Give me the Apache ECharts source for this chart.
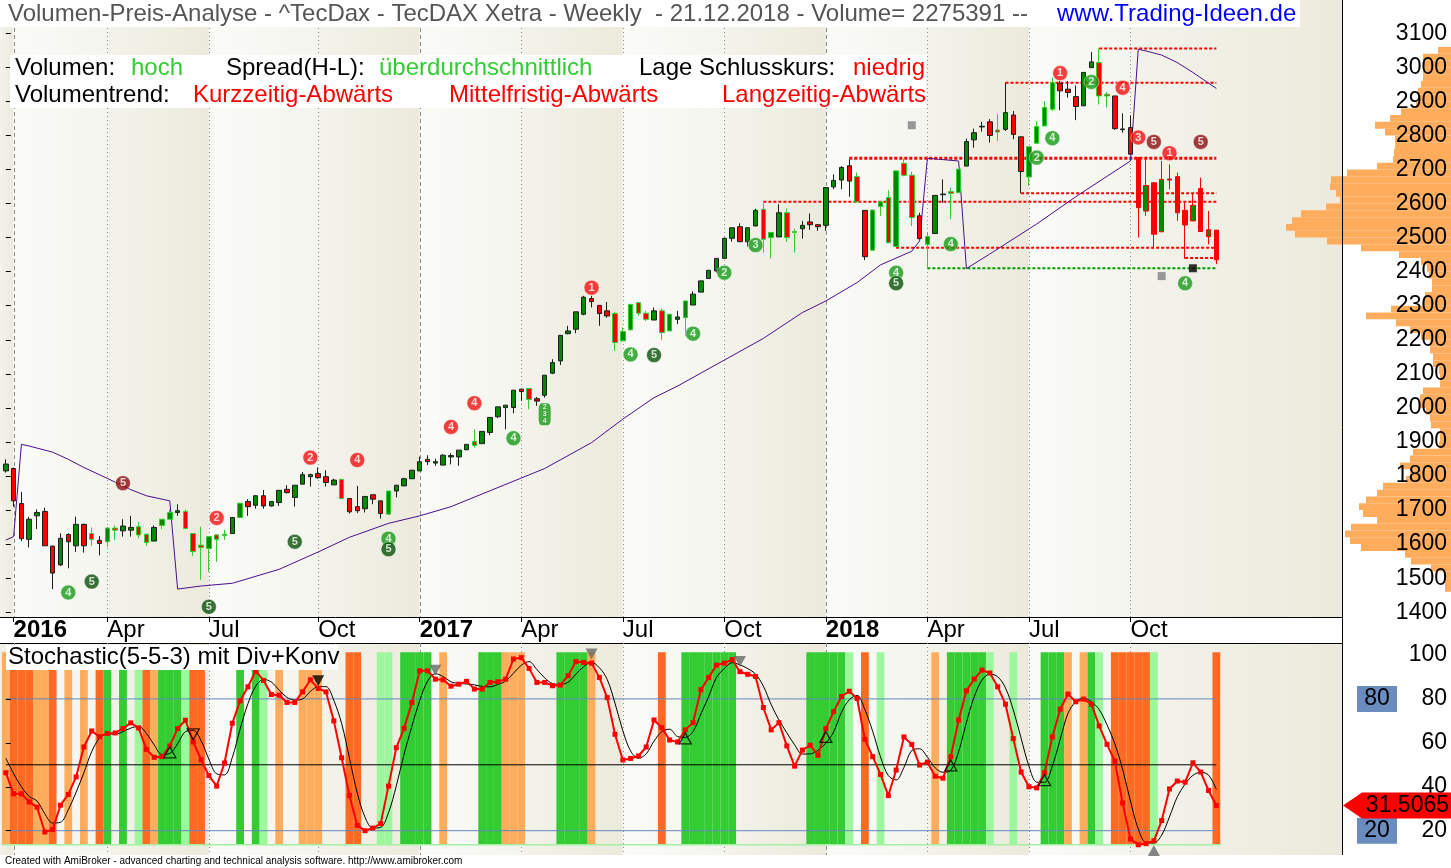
<!DOCTYPE html>
<html><head><meta charset="utf-8">
<script src="https://cdn.jsdelivr.net/npm/echarts@6/dist/echarts.min.js"></script>
<style>html,body{margin:0;padding:0;background:#fff;}#c{width:1451px;height:868px;}</style>
</head><body><div id="c"></div>
<script>
// ---------------- DATA ----------------
const firstWeek = '2016-01-01';
const weekCount = 156;
const opens = [1815,1822,1719,1614,1683,1696,1594,1539,1628,1595,
1658,1631,1611,1607,1647,1639,1641,1651,1629,1609,
1655,1673,1693,1696,1631,1597,1587,1627,1625,1631,
1678,1725,1714,1742,1712,1722,1761,1737,1776,1798,
1807,1798,1774,1790,1734,1710,1704,1745,1727,1688,
1756,1771,1792,1815,1849,1838,1832,1856,1856,1877,
1901,1895,1928,1974,2001,2001,2055,2057,2027,2037,
2102,2138,2218,2231,2275,2321,2301,2285,2277,2197,
2229,2309,2278,2258,2285,2226,2260,2265,2302,2340,
2380,2402,2439,2498,2532,2488,2534,2583,2500,2502,
2573,2515,2526,2546,2538,2536,2649,2669,2711,2679,
2580,2463,2591,2618,2474,2718,2683,2564,2480,2512,
2626,2635,2632,2710,2787,2825,2840,2816,2818,2860,
2796,2678,2777,2828,2877,2953,2936,2914,2887,2999,
3014,2921,2916,2817,2823,2735,2578,2661,2517,2672,
2679,2580,2549,2644,2503,2522];
const closes = [1835,1727,1616,1673,1693,1595,1515,1617,1607,1658,
1595,1614,1602,1647,1641,1653,1649,1627,1605,1649,
1673,1693,1698,1646,1578,1590,1622,1614,1629,1678,
1720,1710,1742,1712,1725,1758,1751,1773,1804,1804,
1795,1781,1788,1734,1695,1698,1740,1732,1690,1756,
1773,1792,1817,1842,1842,1842,1861,1860,1876,1893,
1890,1931,1972,2003,2008,2052,2048,2025,2020,2096,
2133,2213,2226,2282,2325,2312,2277,2270,2192,2224,
2304,2278,2260,2285,2221,2275,2267,2314,2334,2373,
2404,2439,2498,2529,2488,2529,2580,2495,2515,2573,
2500,2518,2536,2538,2532,2647,2668,2706,2666,2605,
2444,2581,2605,2485,2696,2683,2559,2497,2503,2624,
2628,2630,2701,2782,2808,2827,2800,2810,2867,2803,
2694,2767,2826,2882,2955,2931,2926,2885,2985,3016,
2916,2916,2820,2819,2745,2588,2653,2510,2671,2669,
2573,2537,2595,2518,2523,2435];
const highs = [1849,1825,1753,1680,1702,1707,1596,1632,1632,1681,
1660,1649,1624,1650,1655,1673,1683,1665,1630,1655,
1673,1702,1717,1702,1631,1651,1622,1629,1642,1680,
1722,1732,1744,1759,1727,1759,1773,1773,1812,1807,
1825,1817,1792,1792,1734,1771,1740,1745,1727,1756,
1773,1795,1817,1857,1861,1851,1864,1867,1876,1893,
1937,1931,1972,2003,2008,2052,2055,2057,2032,2096,
2143,2213,2241,2282,2329,2329,2301,2311,2282,2236,
2304,2309,2285,2295,2292,2275,2285,2314,2342,2373,
2404,2439,2500,2529,2542,2529,2585,2601,2517,2598,
2585,2526,2549,2571,2538,2647,2686,2710,2730,2691,
2580,2581,2605,2639,2696,2732,2693,2573,2515,2624,
2671,2647,2701,2791,2820,2840,2848,2862,2955,2872,
2796,2767,2843,2901,2970,2960,2960,2947,2985,3045,
3055,2928,2916,2865,2859,2735,2735,2661,2725,2715,
2691,2603,2630,2676,2578,2522];
const lows = [1810,1710,1609,1590,1644,1595,1468,1536,1529,1577,
1575,1595,1567,1592,1612,1622,1622,1617,1595,1609,
1644,1673,1683,1644,1565,1495,1518,1548,1612,1630,
1676,1683,1704,1704,1710,1712,1749,1710,1776,1769,
1792,1769,1774,1732,1690,1691,1693,1717,1675,1686,
1737,1771,1792,1815,1832,1830,1832,1834,1830,1877,
1884,1895,1920,1970,1937,1984,2021,1996,2006,2030,
2099,2126,2216,2219,2272,2295,2241,2265,2167,2197,
2229,2270,2255,2258,2200,2226,2246,2211,2302,2340,
2380,2397,2439,2488,2488,2474,2534,2456,2439,2502,
2487,2456,2497,2523,2520,2520,2642,2642,2620,2603,
2434,2463,2564,2485,2474,2680,2534,2497,2412,2512,
2603,2554,2632,2710,2764,2811,2779,2784,2813,2789,
2630,2652,2777,2828,2872,2874,2911,2845,2887,2999,
2891,2882,2816,2808,2745,2500,2564,2468,2517,2642,
2549,2438,2549,2518,2480,2422];
// candle outline class: k = dark, g = light green, r = red
const outlineCodes = ("kkkkkkkkkk"+"kgkggkkggk"+"ggkggggggk"+"gkkkkkkkkk"+"kkkgkkkkkg"+
  "kkkkkkkkkk"+"gkkkkkkgkk"+"kkkkkkkkgg"+"gggkggkgkk"+"kkkkkkkggk"+
  "ggkkkkkkkg"+"kggggggkgk"+"kggkkkkgkk"+"kggggkkkkk"+"ggkkkrrrrr"+"rrrrrr").split('');

// Stochastic %K (red) and %D (black)
const kValues = [46.4,36.8,36.8,33.1,30.7,19.4,20.5,31.6,36.5,44.5,
58.1,65.4,62.8,64.3,64.5,66.5,69.1,66.8,57.0,53.4,
53.7,58.6,66.5,70.3,60.4,52.3,45.1,40.3,50.8,68.9,
79.1,85.5,92.7,88.4,82.0,81.7,78.4,78.4,83.2,88.7,
84.8,83.2,70.0,53.2,36.0,22.4,20.0,21.2,23.2,40.3,
57.8,66.6,78.4,92.8,92.8,89.0,88.7,85.8,86.7,88.0,
84.5,84.5,87.5,87.8,89.0,98.2,98.8,93.9,87.5,87.5,
86.0,86.3,90.6,97.0,96.6,96.3,89.8,80.6,63.9,52.2,
52.9,54.0,58.1,70.4,66.9,61.3,60.4,65.9,69.2,84.2,
89.8,95.4,96.3,97.9,92.4,91.2,90.2,76.1,65.9,69.2,
58.6,49.4,56.7,58.9,54.3,66.5,74.2,81.1,83.5,80.2,
61.6,53.7,45.6,36.0,47.6,62.7,59.3,49.9,51.2,44.8,
43.9,53.7,70.4,83.7,89.0,93.1,91.8,85.5,77.6,61.9,
46.7,40.0,39.5,46.4,62.7,75.3,82.2,78.7,79.9,77.6,
67.7,59.3,51.7,32.6,16.2,13.6,14.1,15.4,24.6,39.0,
42.6,42.1,50.9,46.7,38.3,31.5065];
const dValues = [53,46,40.0,35.6,33.5,27.7,23.5,23.8,29.5,37.5,
46.4,56.0,62.1,64.2,63.9,65.1,66.7,67.5,64.3,59.1,
54.7,55.2,59.6,65.1,65.7,61.0,52.6,45.9,45.4,53.3,
66.3,77.8,85.8,88.9,87.7,84.0,80.7,79.5,80.0,83.4,
85.6,85.6,79.3,68.8,53.1,37.2,26.1,21.2,21.5,28.2,
40.4,54.9,67.6,79.3,88.0,91.5,90.2,87.8,87.1,86.8,
86.4,85.7,85.5,86.6,88.1,91.7,95.3,97.0,93.4,89.6,
87.0,86.6,87.6,91.3,94.7,96.6,94.2,88.9,78.1,65.6,
56.3,53.0,55.0,60.8,65.1,66.2,62.9,62.5,65.2,73.1,
81.1,89.8,93.8,96.5,95.5,93.8,91.3,85.8,77.4,70.4,
64.6,59.1,54.9,55.0,56.6,59.9,65.0,73.9,79.6,81.6,
75.1,65.2,53.6,45.1,43.1,48.8,56.5,57.3,53.5,48.6,
46.6,47.5,56.0,69.3,81.0,88.6,91.3,90.1,85.0,75.0,
62.1,49.5,42.1,42.0,49.5,61.5,73.4,78.7,80.3,78.7,
75.1,68.2,59.6,47.9,33.5,20.8,14.6,14.4,18.0,26.3,
35.4,41.2,45.2,46.6,45.3,38.8];
// weekly zone colour: O light orange, D dark orange, G green, L light green, . none
const stochZones = ("ODDDOOD.O."+"O.DG.G.LDO"+"GGGLDD...."+"G.GL.O..OO"+"O...DD..LL"+
  ".GGGG.O..."+".GGGOOO..."+".GGGGO...."+"....D..GGG"+"GGGG......"+
  "...GGGGGL."+"D.L......O"+".GGGGGL..L"+"...GGGO.OG"+"L.DDDDDL.."+".....D").split('');
const stochLevels = [80, 50, 20];
const zoneBandLow = 13.6, zoneBandHigh = 101.2;
// divergence triangles [week, value, kind]
const stochTriangles = [[21,55.7,'upHollow'],[24,63.9,'downHollow'],[40,88.3,'downBlack'],[55,93.1,'downGray'],
  [75,100.4,'downGray'],[87,62,'upHollow'],[94,97,'downGray'],[105,62.7,'upHollow'],[121,49.7,'upHollow'],
  [133,43,'upHollow'],[147,11,'upGray']];

// x-axis ticks
const xTickIdx = [1,13,26,40,53,66,79,92,105,118,131,144];
const xTickLabels = ['2016','Apr','Jul','Oct','2017','Apr','Jul','Oct','2018','Apr','Jul','Oct'];
const priceTickMin = 1400, priceTickMax = 3100, priceTickStep = 100;
const stochTickMin = 20, stochTickMax = 100, stochTickStep = 20;

// purple anchored line points [week, price]
const vwapPts = [[0,1612],[1,1622],[2,1893],[3,1888],[6,1870],[8,1849],[10,1825],[13,1793],[16,1760],[18,1742],
  [21,1727],[22,1468],[25,1477],[29,1485],[35,1526],[40,1577],[44,1620],[49,1661],[53,1683],[57,1710],
  [69,1822],[75,1898],[79,1967],[83,2030],[86,2064],[97,2204],[102,2280],[105,2314],[109,2368],[112,2420],
  [116,2460],[117,2490],[118,2733],[122,2725],[123,2409],[126,2452],[132,2540],[137,2620],[144,2725],
  [145,3053],[146,3048],[148,3036],[150,3014],[152,2985],[155,2938]];
// support / resistance [start week, price, colour]
const levelLines = [[140,3055,'r'],[128,2955,'r'],[108,2733,'r'],[130,2630,'r'],[97,2605,'r'],
  [114,2470,'r'],[151,2440,'r'],[118,2410,'g']];
// numbered signals [week, price, text, kind]
const badges = [[27,1677,'2','r'],[39,1854,'2','r'],[45,1847,'4','r'],[57,1944,'4','r'],[60,2014,'4','r'],
  [75,2353,'1','r'],[135,2983,'1','r'],[143,2940,'4','r'],[145,2794,'3','r'],[149,2748,'1','r'],
  [15,1779,'5','dr'],[147,2781,'5','dr'],[153,2781,'5','dr'],
  [8,1458,'4','g'],[65,1911,'4','g'],[80,2157,'4','g'],[88,2218,'4','g'],[92,2397,'2','g'],[96,2478,'3','g'],
  [121,2481,'4','g'],[134,2792,'4','g'],[132,2735,'2','g'],[139,2957,'2','g'],[151,2366,'4','g'],
  [114,2397,'4','g'],[49,1616,'4','g'],
  [11,1490,'5','dg'],[26,1416,'5','dg'],[37,1607,'5','dg'],[49,1585,'5','dg'],[83,2155,'5','dg'],[114,2366,'5','dg']];
const pillBadge = [69, 1981, '2\n3\n4'];
const squares = [[116,2830,'gray'],[148,2387,'gray'],[152,2410,'black']];
// volume-at-price profile
const profPrices = [1470,1490,1510,1530,1550,1570,1590,1610,1630,1650,1670,1690,1710,1730,1750,1770,1790,1810,1830,1850,
  1870,1890,1910,1930,1950,1970,1990,2010,2030,2050,2070,2090,2110,2130,2150,2170,2190,2210,2230,2250,
  2270,2290,2310,2330,2350,2370,2390,2410,2430,2450,2470,2490,2510,2530,2550,2570,2590,2610,2630,2650,
  2670,2690,2710,2730,2750,2770,2790,2810,2830,2850,2870,2890,2910,2930,2950,2970,2990,3010,3030,3050];
const profVols = [6,6,6,20,40,46,90,101,106,100,74,88,92,85,74,68,45,41,51,41,
  38,12,11,11,20,21,25,31,31,28,11,11,12,18,18,21,21,30,41,55,
  85,60,28,26,19,19,22,24,30,52,90,124,156,165,159,150,125,111,115,121,
  120,104,74,58,57,56,56,66,76,61,50,35,33,33,30,28,28,28,28,13];
const profBin = 20;

// ---------------- LAYOUT ----------------
const FONT = '"Liberation Sans", Arial, sans-serif';
const PX0 = 5.8, BAND = 7.81, PLOT_W = 1342, TOTAL_W = 1451;
const XMIN = -PX0 / BAND, XMAX = XMIN + PLOT_W / BAND;
const MAIN_TOP = 28, MAIN_BOT = 617, LOW_TOP = 643, LOW_BOT = 855;
const PMIN = 1386, PMAX = 3115.5, SMIN = 8.93, SMAX = 105.46;
const pScale = (MAIN_BOT - MAIN_TOP) / (PMAX - PMIN);
const sScale = (LOW_BOT - LOW_TOP) / (SMAX - SMIN);
const last = weekCount - 1;

const categories = [];
{ const d0 = new Date(firstWeek + 'T00:00:00Z');
  for (let i = 0; i < weekCount; i++) { const d = new Date(d0.getTime() + i * 7 * 86400000); categories.push(d.toISOString().slice(0,10)); } }
const tickMap = {}; xTickIdx.forEach((t, k) => tickMap[t] = xTickLabels[k]);
const isYear = s => /^\d{4}$/.test(s);

const chart = echarts.init(document.getElementById('c'), null, {renderer: 'canvas', width: 1451, height: 868});

const lightGrad = new echarts.graphic.LinearGradient(0,0,1,0,[{offset:0,color:'#fafaf7'},{offset:1,color:'#f5f5ef'}]);
const shadeGrad = new echarts.graphic.LinearGradient(0,0,1,0,[{offset:0,color:'#f4f3eb'},{offset:1,color:'#ebeadc'}]);
const shadeRanges = [];
{ const b = [XMIN].concat(xTickIdx).concat([XMAX]);
  for (let k = 0; k < b.length - 1; k++) shadeRanges.push([b[k], b[k+1], k % 2 === 0 ? 1 : 0]); }

const zoneColors = {O:'#ffad5c', D:'#ff6a22', G:'#33cc33', L:'#9df79d'};
const zoneKeys = ['O','D','G','L'];
const zoneData = [];
stochZones.forEach((z, i) => { const k = zoneKeys.indexOf(z); if (k >= 0) zoneData.push([i, k]); });
const outlineColor = {k:'#1e1e1e', g:'#33cc33', r:'#ff0000'};
const badgeColor = {r:'#f01010', dr:'#8a0c0c', g:'#149a14', dg:'#075007'};

function vlineRender(params, api) {
  const cs = params.coordSys;
  const x = Math.round(api.coord([api.value(0), api.value(1)])[0]) + 0.5;
  return {type:'line', shape:{x1:x, y1:cs.y, x2:x, y2:cs.y + cs.height},
    style:{stroke:'#8a8a8a', lineWidth:1, lineDash: api.value(2) ? [4,3] : [1,3]}};
}

const series = [];
// background quarters (upper panel incl. title row, lower panel)
series.push({type:'custom', xAxisIndex:0, yAxisIndex:0, z:0, silent:true, clip:false, data: shadeRanges,
  renderItem: (params, api) => {
    const cs = params.coordSys;
    const a = api.coord([api.value(0), 0.5])[0], b = api.coord([api.value(1), 0.5])[0];
    const fill = api.value(2) ? shadeGrad : lightGrad;
    return {type:'group', children:[
      {type:'rect', shape:{x:a, y:cs.y, width:b - a, height:MAIN_BOT - cs.y}, style:{fill: fill}},
      {type:'rect', shape:{x:a, y:LOW_TOP, width:b - a, height:LOW_BOT - LOW_TOP}, style:{fill: fill}}
    ]};
  }});
// vertical period lines
series.push({type:'custom', xAxisIndex:1, yAxisIndex:1, z:1, silent:true,
  data: xTickIdx.map((t,k) => [t, 2000, isYear(xTickLabels[k]) ? 1 : 0]), renderItem: vlineRender});
series.push({type:'custom', xAxisIndex:2, yAxisIndex:2, z:1, silent:true,
  data: xTickIdx.map((t,k) => [t, 50, isYear(xTickLabels[k]) ? 1 : 0]), renderItem: vlineRender});
// stochastic zone bands
series.push({type:'custom', xAxisIndex:2, yAxisIndex:2, z:2, silent:true, data: zoneData,
  renderItem: (params, api) => {
    const i = api.value(0);
    const p1 = api.coord([i - 0.5, zoneBandHigh]), p2 = api.coord([i + 0.5, zoneBandLow]);
    return {type:'rect', shape:{x:p1[0], y:p1[1], width:p2[0]-p1[0], height:p2[1]-p1[1]}, style:{fill: zoneColors[zoneKeys[api.value(1)]]}};
  }});
series.push({type:'line', xAxisIndex:2, yAxisIndex:2, z:2, silent:true, symbol:'none',
  data:[[-0.5, zoneBandLow],[last + 0.5, zoneBandLow]], lineStyle:{color:'#a3f0a3', width:1.5}});
stochLevels.forEach(v => series.push({type:'line', xAxisIndex:2, yAxisIndex:2, z:3, silent:true, symbol:'none',
  data:[[0, v],[last, v]], lineStyle:{color: v === 50 ? '#000000' : '#6587bf', width:1}}));
// %D and %K
series.push({type:'line', xAxisIndex:2, yAxisIndex:2, z:4, symbol:'none', smooth:0.35,
  data: dValues.map((v,i) => [i, v]), lineStyle:{color:'#000', width:1}});
series.push({type:'line', xAxisIndex:2, yAxisIndex:2, z:5, symbol:'rect', symbolSize:5,
  data: kValues.map((v,i) => [i, v]), lineStyle:{color:'#ff0000', width:2}, itemStyle:{color:'#ff0000'}});
series.push({type:'scatter', xAxisIndex:2, yAxisIndex:2, z:6, symbol:'triangle', symbolSize:[12,11],
  data: stochTriangles.map(t => {
    const down = t[2].indexOf('down') === 0;
    const hollow = t[2].indexOf('Hollow') > 0;
    const fill = hollow ? 'rgba(0,0,0,0)' : (t[2].indexOf('Gray') > 0 ? '#666666' : '#000000');
    return {value:[t[0], t[1]], symbolRotate: down ? 180 : 0,
      itemStyle:{color: fill, borderColor: hollow ? '#000' : fill, borderWidth: hollow ? 1.3 : 0}};
  })});
// volume profile
series.push({type:'custom', xAxisIndex:3, yAxisIndex:3, z:2, silent:true, clip:false,
  data: profPrices.map((p,k) => [profVols[k], p]),
  renderItem: (params, api) => {
    const v = api.value(0), p = api.value(1);
    const tl = api.coord([v, p + profBin/2]), br = api.coord([0, p - profBin/2]);
    return {type:'rect', shape:{x:tl[0], y:tl[1], width:br[0]-tl[0], height:br[1]-tl[1]}, style:{fill:'#ffad5c'}};
  }});
// support / resistance lines
levelLines.forEach(l => series.push({type:'line', xAxisIndex:1, yAxisIndex:1, z:3, silent:true, symbol:'none',
  data:[[l[0], l[1]],[last, l[1]]], lineStyle:{color: l[2] === 'g' ? '#009900' : '#ff0000', width: l[1] === 2733 ? 3 : 2, type:[3,2]}}));
// purple line
series.push({type:'line', xAxisIndex:1, yAxisIndex:1, z:3, symbol:'none', data: vwapPts, lineStyle:{color:'#4b0f8c', width:1}});
// candles
series.push({type:'candlestick', xAxisIndex:1, yAxisIndex:1, z:4, barWidth:5,
  itemStyle:{color:'#008a00', color0:'#ff0000', borderWidth:1},
  data: opens.map((o,i) => { const c = outlineColor[outlineCodes[i]];
    return {value:[i, o, closes[i], lows[i], highs[i]], itemStyle:{borderColor:c, borderColor0:c}}; })});
// badges
series.push({type:'scatter', xAxisIndex:1, yAxisIndex:1, z:6, symbol:'circle', symbolSize:15,
  label:{show:true, position:'inside', color:'#ffffff', fontWeight:'bold', fontSize:11, fontFamily:FONT},
  data: badges.map(b => ({value:[b[0], b[1]], label:{formatter:b[2]}, itemStyle:{color: badgeColor[b[3]], borderColor:'#ffffff', borderWidth:0.6}}))});
series.push({type:'scatter', xAxisIndex:1, yAxisIndex:1, z:6, symbol:'roundRect', symbolSize:[12,22],
  label:{show:true, position:'inside', color:'#ffffff', fontWeight:'bold', fontSize:7, lineHeight:7, fontFamily:FONT},
  data:[{value:[pillBadge[0], pillBadge[1]], label:{formatter:pillBadge[2]}, itemStyle:{color:'#149a14'}}]});
series.push({type:'scatter', xAxisIndex:1, yAxisIndex:1, z:6, symbol:'rect', symbolSize:8,
  data: squares.map(s => ({value:[s[0], s[1]], itemStyle:{color: s[2] === 'black' ? '#000000' : '#808080'}}))});

const hiddenVal = (min, max, grid) => ({type:'value', gridIndex:grid, min:min, max:max, show:false});
const labelAxis = (grid, min, max, step) => ({type:'value', gridIndex:grid, position:'right', min:min, max:max, interval:step, z:10,
  axisLine:{show:false}, splitLine:{show:false}, axisTick:{show:true, length:5, lineStyle:{color:'#000'}},
  axisLabel:{show:true, align:'right', margin:105, fontSize:23, color:'#000', fontFamily:FONT, formatter:(v) => String(v)}});

const option = {
  animation:false,
  backgroundColor:'#ffffff',
  grid:[
    {left:0, top:0, width:PLOT_W, height:LOW_BOT},
    {left:0, top:MAIN_TOP, width:PLOT_W, height:MAIN_BOT - MAIN_TOP},
    {left:0, top:LOW_TOP, width:PLOT_W, height:LOW_BOT - LOW_TOP},
    {left:0, top:MAIN_TOP, width:TOTAL_W, height:MAIN_BOT - MAIN_TOP},
    {left:0, top:MAIN_TOP + (PMAX - priceTickMax) * pScale, width:PLOT_W, height:(priceTickMax - priceTickMin) * pScale},
    {left:0, top:LOW_TOP + (SMAX - stochTickMax) * sScale, width:PLOT_W, height:(stochTickMax - stochTickMin) * sScale},
    {left:PX0 - BAND/2, top:MAIN_BOT - 17, width:BAND * weekCount, height:17}
  ],
  xAxis:[
    hiddenVal(XMIN, XMAX, 0),
    {type:'value', gridIndex:1, min:XMIN, max:XMAX, position:'bottom', axisLine:{show:true, onZero:false, lineStyle:{color:'#000', width:1}},
      axisTick:{show:false}, axisLabel:{show:false}, splitLine:{show:false}},
    {type:'value', gridIndex:2, min:XMIN, max:XMAX, position:'top', axisLine:{show:true, onZero:false, lineStyle:{color:'#000', width:1}},
      axisTick:{show:false}, axisLabel:{show:false}, splitLine:{show:false}},
    {type:'value', gridIndex:3, min:0, max:TOTAL_W, inverse:true, show:false},
    hiddenVal(XMIN, XMAX, 4),
    hiddenVal(XMIN, XMAX, 5),
    {type:'category', gridIndex:6, data:categories, position:'bottom', boundaryGap:true, z:10,
      axisLine:{show:false}, splitLine:{show:false},
      axisTick:{show:true, alignWithLabel:true, length:5, interval:(idx) => tickMap[idx] !== undefined, lineStyle:{color:'#000'}},
      axisLabel:{show:true, interval:(idx) => tickMap[idx] !== undefined, align:'left', verticalAlign:'middle', margin:13,
        fontSize:24, color:'#000', fontFamily:FONT,
        formatter:(val, idx) => { const s = tickMap[idx] || ''; return isYear(s) ? '{y|' + s + '}' : s; },
        rich:{y:{fontWeight:'bold', fontSize:24, color:'#000', fontFamily:FONT}}}}
  ],
  yAxis:[
    hiddenVal(0, 1, 0),
    {type:'value', gridIndex:1, position:'right', min:PMIN, max:PMAX, axisLine:{show:false}, axisTick:{show:false}, axisLabel:{show:false}, splitLine:{show:false}},
    {type:'value', gridIndex:2, position:'right', min:SMIN, max:SMAX, axisLine:{show:false}, axisTick:{show:false}, axisLabel:{show:false}, splitLine:{show:false}},
    hiddenVal(PMIN, PMAX, 3),
    labelAxis(4, priceTickMin, priceTickMax, priceTickStep),
    labelAxis(5, stochTickMin, stochTickMax, stochTickStep),
    hiddenVal(0, 1, 6)
  ],
  series: series
};
chart.setOption(option);

// --------- overlay texts / boxes ---------
const T = (text, x, y, color, size, extra) => ({type:'text', z: (extra && extra.z) || 60,
  style:{text:text, x:x, y:y, fill:color, font: size + 'px ' + FONT,
    textAlign:(extra && extra.align) || 'left', align:(extra && extra.align) || 'left', textVerticalAlign:'middle', verticalAlign:'middle'}});
const R = (x, y, w, h, fill, z) => ({type:'rect', z: z || 55, shape:{x:x, y:y, width:w, height:h}, style:{fill:fill}});
const infoRow1 = [['Volumen:',15,'#000'],['hoch',131,'#33cc33'],['Spread(H-L):',226,'#000'],['überdurchschnittlich',379,'#33cc33'],['Lage Schlusskurs:',639,'#000'],['niedrig',853,'#ff0000']];
const infoRow2 = [['Volumentrend:',15,'#000'],['Kurzzeitig-Abwärts',193,'#ff0000'],['Mittelfristig-Abwärts',449,'#ff0000'],['Langzeitig-Abwärts',722,'#ff0000']];

const y80 = chart.convertToPixel({gridIndex:2}, [0, 80])[1];
const y20 = chart.convertToPixel({gridIndex:2}, [0, 20])[1];
const lastK = kValues[last];
const yK = chart.convertToPixel({gridIndex:2}, [0, lastK])[1];

const g = [
  R(0, 0, 1300, 27, '#ffffff'),
  T('Volumen-Preis-Analyse - ^TecDax - TecDAX Xetra - Weekly  - 21.12.2018 - Volume= 2275391 --', 8, 14, '#555555', 24),
  T('www.Trading-Ideen.de', 1057, 14, '#0000ff', 24),
  R(10, 55, 916, 53, '#ffffff'),
  R(6, 645, 332, 25, '#ffffff'),
  T('Stochastic(5-5-3) mit Div+Konv', 8, 657, '#000000', 24),
  T('Created with AmiBroker - advanced charting and technical analysis software. http://www.amibroker.com', 5, 861, '#000000', 10),
  {type:'line', z:70, shape:{x1:1342.5, y1:0, x2:1342.5, y2:LOW_BOT}, style:{stroke:'#000', lineWidth:1}},
  R(1357, y80 - 13, 40, 26, '#6b8cbe', 62), T('80', 1377, y80, '#000', 23, {align:'center', z:63}),
  R(1357, y20 - 13, 40, 26, '#6b8cbe', 62), T('20', 1377, y20, '#000', 23, {align:'center', z:63}),
  {type:'polygon', z:65, shape:{points:[[1343, yK],[1362, yK - 13],[1451, yK - 13],[1451, yK + 13],[1362, yK + 13]]}, style:{fill:'#ff0000'}},
  T(String(lastK), 1449, yK, '#000', 23, {align:'right', z:66})
];
infoRow1.forEach(r => g.push(T(r[0], r[1], 68, r[2], 24)));
infoRow2.forEach(r => g.push(T(r[0], r[1], 95, r[2], 24)));
chart.setOption({graphic: g});
</script>
</body></html>
